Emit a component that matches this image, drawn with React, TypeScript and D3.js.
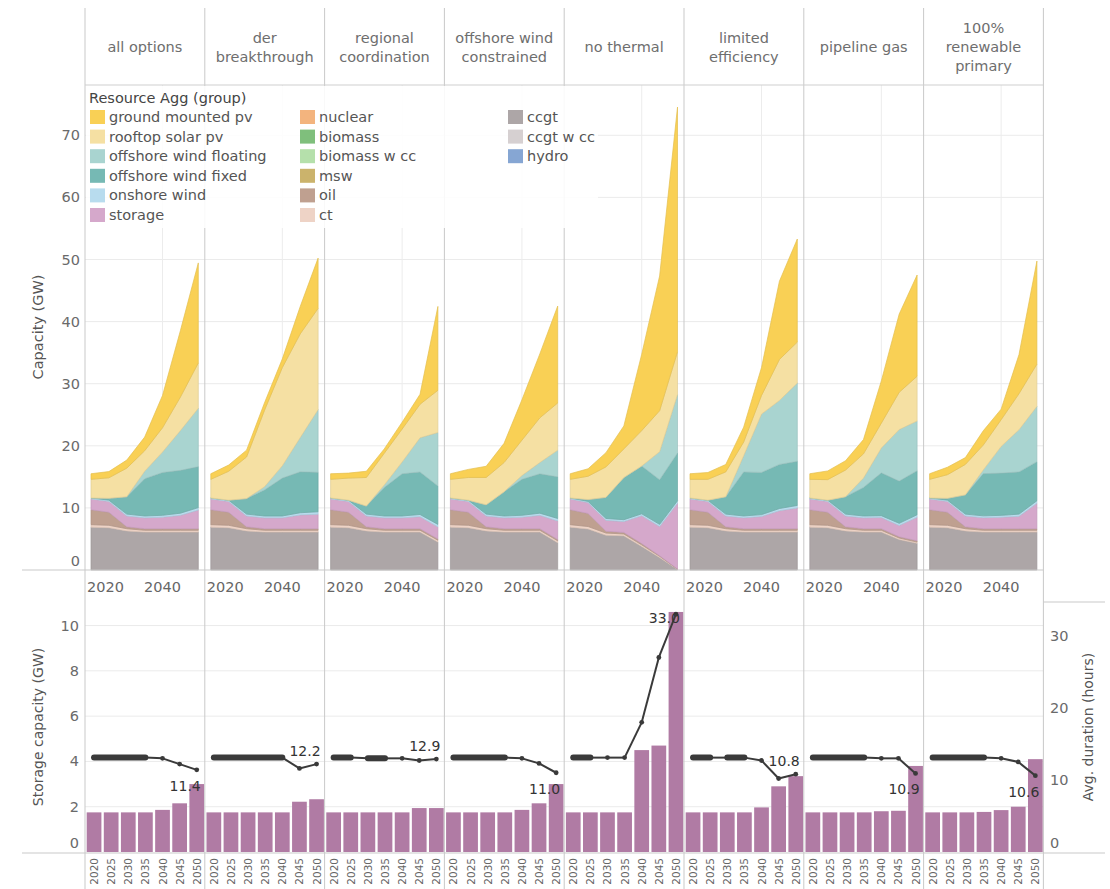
import React from "react";
import * as d3 from "d3";

// ---------------- DATA ----------------
const years = [2020, 2025, 2030, 2035, 2040, 2045, 2050];

const scenarioNames = [
  "all options",
  "der breakthrough",
  "regional coordination",
  "offshore wind constrained",
  "no thermal",
  "limited efficiency",
  "pipeline gas",
  "100% renewable primary",
];

const headerLines = [
  ["all options"],
  ["der", "breakthrough"],
  ["regional", "coordination"],
  ["offshore wind", "constrained"],
  ["no thermal"],
  ["limited", "efficiency"],
  ["pipeline gas"],
  ["100%", "renewable", "primary"],
];

// Capacity (GW) per scenario (rows) per year (columns)
const ccgt = [
  [6.9, 6.8, 6.3, 6.1, 6.1, 6.1, 6.1],
  [6.9, 6.8, 6.3, 6.1, 6.1, 6.1, 6.1],
  [6.9, 6.8, 6.3, 6.1, 6.1, 6.1, 4.5],
  [6.9, 6.8, 6.3, 6.1, 6.1, 6.1, 4.4],
  [6.9, 6.6, 5.6, 5.5, 3.8, 2.0, 0.1],
  [6.9, 6.8, 6.3, 6.1, 6.1, 6.1, 6.1],
  [6.9, 6.8, 6.3, 6.1, 6.1, 4.9, 4.3],
  [6.9, 6.8, 6.3, 6.1, 6.1, 6.1, 6.1],
];
const ct = [
  [0.4, 0.4, 0.35, 0.3, 0.3, 0.3, 0.3],
  [0.4, 0.4, 0.35, 0.3, 0.3, 0.3, 0.3],
  [0.4, 0.4, 0.35, 0.3, 0.3, 0.3, 0.3],
  [0.4, 0.4, 0.35, 0.3, 0.3, 0.3, 0.3],
  [0.4, 0.4, 0.35, 0.3, 0.25, 0.2, 0.05],
  [0.4, 0.4, 0.35, 0.3, 0.3, 0.3, 0.3],
  [0.4, 0.4, 0.35, 0.3, 0.3, 0.25, 0.2],
  [0.4, 0.4, 0.35, 0.3, 0.3, 0.3, 0.3],
];
const oil = [
  [2.4, 2.1, 0.3, 0.25, 0.25, 0.25, 0.25],
  [2.4, 2.1, 0.3, 0.25, 0.25, 0.25, 0.25],
  [2.4, 2.1, 0.3, 0.25, 0.25, 0.25, 0.2],
  [2.4, 2.1, 0.3, 0.25, 0.25, 0.25, 0.2],
  [2.4, 2.1, 0.3, 0.25, 0.2, 0.1, 0.0],
  [2.4, 2.1, 0.3, 0.25, 0.25, 0.25, 0.25],
  [2.4, 2.1, 0.3, 0.25, 0.25, 0.2, 0.2],
  [2.4, 2.1, 0.3, 0.25, 0.25, 0.25, 0.25],
];
const storage = [
  [1.75, 1.75, 1.75, 1.75, 1.86, 2.15, 3.0],
  [1.75, 1.75, 1.75, 1.75, 1.75, 2.22, 2.33],
  [1.75, 1.75, 1.75, 1.75, 1.75, 1.94, 1.94],
  [1.75, 1.75, 1.75, 1.75, 1.86, 2.15, 3.0],
  [1.75, 1.75, 1.75, 1.75, 4.5, 4.7, 10.6],
  [1.75, 1.75, 1.75, 1.75, 1.97, 2.9, 3.35],
  [1.75, 1.75, 1.75, 1.75, 1.8, 1.82, 3.8],
  [1.75, 1.75, 1.75, 1.77, 1.85, 2.0, 4.1],
];
const onshoreWind = [
  [0.15, 0.2, 0.3, 0.3, 0.3, 0.35, 0.4],
  [0.15, 0.2, 0.3, 0.3, 0.3, 0.35, 0.4],
  [0.15, 0.2, 0.3, 0.3, 0.3, 0.35, 0.4],
  [0.15, 0.2, 0.3, 0.3, 0.3, 0.35, 0.4],
  [0.15, 0.2, 0.3, 0.3, 0.3, 0.35, 0.4],
  [0.15, 0.2, 0.3, 0.3, 0.3, 0.35, 0.4],
  [0.15, 0.2, 0.3, 0.3, 0.3, 0.35, 0.4],
  [0.15, 0.2, 0.3, 0.3, 0.3, 0.35, 0.4],
];
const offshoreFixed = [
  [0, 0.3, 2.8, 6.0, 6.9, 6.9, 6.6],
  [0, 0, 2.5, 4.2, 6.1, 6.6, 6.35],
  [0, 0, 1.3, 4.6, 6.8, 6.85, 6.2],
  [0, 0, 1.5, 3.9, 5.8, 6.35, 6.7],
  [0, 0.3, 3.4, 6.8, 7.7, 7.2, 7.7],
  [0, 0, 2.8, 7.1, 6.8, 7.1, 7.1],
  [0, 0, 2.8, 4.6, 6.9, 6.8, 7.1],
  [0, 0.3, 3.1, 6.8, 6.8, 6.8, 6.3],
];
const offshoreFloating = [
  [0, 0, 0, 1.2, 3.3, 6.4, 9.4],
  [0, 0, 0, 0.5, 2.0, 5.5, 10.1],
  [0, 0, 0, 0.4, 1.9, 5.5, 8.6],
  [0, 0, 0, 0, 0.6, 1.8, 4.3],
  [0, 0, 0, 0, 0, 4.5, 9.4],
  [0, 0, 0, 2.6, 9.4, 10.3, 12.6],
  [0, 0, 0, 1.5, 4.0, 8.3, 8.0],
  [0, 0, 0, 0.6, 4.3, 6.8, 8.9],
];
const rooftopPv = [
  [3.0, 3.3, 4.6, 3.3, 3.9, 5.4, 7.3],
  [3.0, 4.65, 6.7, 12.3, 15.8, 16.7, 16.3],
  [3.0, 3.55, 4.6, 5.1, 5.3, 5.4, 6.8],
  [3.0, 3.65, 4.4, 4.7, 5.7, 7.2, 7.6],
  [3.0, 3.75, 4.9, 4.6, 5.7, 6.6, 6.9],
  [3.0, 3.35, 4.0, 2.2, 3.0, 6.6, 6.6],
  [3.0, 3.3, 4.3, 3.9, 4.0, 6.0, 7.2],
  [3.0, 3.8, 4.9, 4.0, 4.3, 5.8, 6.8],
];
const groundPv = [
  [0.9, 1.0, 1.3, 2.2, 5.2, 10.7, 16.1],
  [0.9, 1.0, 1.1, 1.2, 1.4, 4.4, 8.1],
  [0.9, 0.8, 1.0, 0.7, 1.1, 1.6, 13.5],
  [0.9, 1.3, 1.8, 3.1, 6.5, 10.3, 15.6],
  [0.9, 1.2, 2.3, 3.7, 12.3, 21.7, 39.4],
  [0.9, 1.1, 1.2, 2.4, 4.5, 12.6, 16.6],
  [0.9, 1.4, 1.5, 2.3, 6.8, 12.6, 16.3],
  [0.9, 1.2, 1.1, 2.3, 1.7, 6.3, 16.6],
];

// Average storage duration (hours)
const durationHours = [
  [13.1, 13.1, 13.1, 13.1, 13.0, 12.2, 11.4],
  [13.1, 13.1, 13.1, 13.1, 13.1, 11.6, 12.2],
  [13.1, 13.1, 13.0, 13.0, 13.0, 12.7, 12.9],
  [13.1, 13.1, 13.1, 13.1, 13.0, 12.3, 11.0],
  [13.1, 13.1, 13.1, 13.1, 18.0, 27.0, 33.0],
  [13.1, 13.1, 13.1, 13.1, 12.7, 10.2, 10.8],
  [13.1, 13.1, 13.1, 13.1, 13.0, 13.0, 10.9],
  [13.1, 13.1, 13.1, 13.1, 13.0, 12.5, 10.6],
];
// size encoding of the duration line (1 = wide segment)
const wideSegment = [
  [1, 1, 1, 0, 0, 0],
  [1, 1, 1, 1, 0, 0],
  [1, 0, 1, 0, 0, 0],
  [1, 1, 1, 0, 0, 0],
  [1, 0, 0, 0, 0, 0],
  [1, 0, 1, 0, 0, 0],
  [1, 1, 1, 0, 0, 0],
  [1, 1, 1, 0, 0, 0],
];

const capTicks = [0, 10, 20, 30, 40, 50, 60, 70];
const storTicks = [0, 2, 4, 6, 8, 10];
const durTicks = [0, 10, 20, 30];
const topYearTicks = [2020, 2040];

const stackKeys = [
  "ccgt",
  "ct",
  "oil",
  "storage",
  "onshore wind",
  "offshore wind fixed",
  "offshore wind floating",
  "rooftop solar pv",
  "ground mounted pv",
];
const stackData: Record<string, number[][]> = {
  ccgt: ccgt,
  ct: ct,
  oil: oil,
  storage: storage,
  "onshore wind": onshoreWind,
  "offshore wind fixed": offshoreFixed,
  "offshore wind floating": offshoreFloating,
  "rooftop solar pv": rooftopPv,
  "ground mounted pv": groundPv,
};

const colors: Record<string, string> = {
  "ground mounted pv": "#F9D055",
  "rooftop solar pv": "#F5E0A3",
  "offshore wind floating": "#A9D4D0",
  "offshore wind fixed": "#76B9B4",
  "onshore wind": "#B8DCEE",
  storage: "#D5A8CB",
  nuclear: "#F3B47E",
  biomass: "#7FBF7C",
  "biomass w cc": "#B5E0AB",
  msw: "#CBB36C",
  oil: "#BFA090",
  ct: "#EED3C6",
  ccgt: "#ADA6A7",
  "ccgt w cc": "#D6D0D1",
  hydro: "#86A6D3",
};

const legendColumns = [
  ["ground mounted pv", "rooftop solar pv", "offshore wind floating", "offshore wind fixed", "onshore wind", "storage"],
  ["nuclear", "biomass", "biomass w cc", "msw", "oil", "ct"],
  ["ccgt", "ccgt w cc", "hydro"],
];

// ---------------- LAYOUT ----------------
const W = 1110;
const H = 889;
const panelX0 = 85;
const panelW = 119.8;
const headerTop = 8;
const headerBottom = 85;
const topBase = 570;
const botTop = 602;
const botBase = 852;
const FONT = "DejaVu Sans, Verdana, sans-serif";

const yCap = d3.scaleLinear().domain([0, 78.1]).range([topBase, headerBottom]);
const yStor = d3.scaleLinear().domain([0, 11.04]).range([botBase, botTop]);
const yDur = d3.scaleLinear().domain([0, 34.7]).range([botBase, botTop]);

export default function App() {
  const panels = scenarioNames.map((name, i) => {
    const x0 = panelX0 + i * panelW;
    const x1 = x0 + panelW;
    const xT = d3.scaleLinear().domain([2020, 2050]).range([x0 + 6, x1 - 6.5]);
    const xB = d3
      .scaleBand<number>()
      .domain(years)
      .range([x0 + 1, x1])
      .paddingInner(0.14)
      .paddingOuter(0.04);

    const rows = years.map((yr, j) => {
      const o: any = { year: yr };
      stackKeys.forEach((k) => (o[k] = stackData[k][i][j]));
      return o;
    });
    const stacked = d3.stack<any>().keys(stackKeys)(rows);
    const area = d3
      .area<any>()
      .x((d) => xT(d.data.year))
      .y0((d) => yCap(d[0]))
      .y1((d) => yCap(d[1]));

    const pts: [number, number][] = years.map((yr, j) => [
      (xB(yr) as number) + xB.bandwidth() / 2,
      yDur(durationHours[i][j]),
    ]);
    const line = d3.line();
    // group consecutive wide segments into runs
    const runs: { from: number; to: number; wide: boolean }[] = [];
    wideSegment[i].forEach((w, j) => {
      const wide = w === 1;
      const lastRun = runs[runs.length - 1];
      if (lastRun && lastRun.wide === wide && wide) lastRun.to = j + 1;
      else runs.push({ from: j, to: j + 1, wide });
    });
    const last = durationHours[i][6];
    const prev = durationHours[i][5];
    const [lx, ly] = pts[6];
    const labelY = last < prev ? ly + 21 : Math.max(ly - 8, botTop + 21);

    return (
      <g key={name}>
        {/* header */}
        {headerLines[i].map((t, k) => (
          <text
            key={k}
            x={(x0 + x1) / 2}
            y={47 + (k - (headerLines[i].length - 1) / 2) * 19}
            textAnchor="middle"
            dominantBaseline="central"
            fontSize={14.5}
            fill="#6e6e6e"
          >
            {t}
          </text>
        ))}
        {/* top gridline at 2040 */}
        <line x1={xT(2040)} x2={xT(2040)} y1={headerBottom} y2={topBase} stroke="#ececec" />
        {/* stacked areas */}
        {stacked.map((s) => (
          <path
            key={s.key}
            d={area(s) || ""}
            fill={colors[s.key]}
            stroke={d3.color(colors[s.key])!.darker(0.25).toString()}
            strokeWidth={0.7}
          />
        ))}
        {/* top x labels */}
        {topYearTicks.map((yr, k) => (
          <text
            key={yr}
            x={k === 0 ? xT(yr) - 4 : xT(yr)}
            y={587}
            textAnchor={k === 0 ? "start" : "middle"}
            dominantBaseline="central"
            fontSize={14.5}
            fill="#666"
          >
            {yr}
          </text>
        ))}
        {/* bars */}
        {years.map((yr, j) => (
          <rect
            key={yr}
            x={xB(yr)}
            y={yStor(storage[i][j])}
            width={xB.bandwidth()}
            height={botBase - yStor(storage[i][j])}
            fill="#B07BA4"
          />
        ))}
        {/* duration line */}
        {pts.map((p, j) => (
          <circle key={j} cx={p[0]} cy={p[1]} r={2.4} fill="#3a3a3a" />
        ))}
        {runs.map((r, j) => (
          <path
            key={j}
            d={line(pts.slice(r.from, r.to + 1)) || ""}
            stroke="#3a3a3a"
            strokeWidth={r.wide ? 6 : 2}
            strokeLinecap={r.wide ? "round" : "butt"}
            strokeLinejoin="round"
            fill="none"
          />
        ))}
        <text x={lx + 4} y={labelY} textAnchor="end" fontSize={14} fill="#333">
          {last.toFixed(1)}
        </text>
        {/* rotated year labels */}
        {years.map((yr) => {
          const cx = (xB(yr) as number) + xB.bandwidth() / 2;
          return (
            <text
              key={yr}
              transform={`translate(${cx},858) rotate(-90)`}
              textAnchor="end"
              dominantBaseline="central"
              fontSize={10.5}
              fill="#666"
            >
              {yr}
            </text>
          );
        })}
      </g>
    );
  });

  const panelLines = d3.range(scenarioNames.length + 1).map((k) => panelX0 + k * panelW);
  const rightEdge = panelX0 + scenarioNames.length * panelW;

  return (
    <svg
      width={W}
      height={H}
      style={{ position: "absolute", left: 0, top: 0, background: "#fff" }}
      fontFamily={FONT}
    >
      <rect x={0} y={0} width={W} height={H} fill="#fff" />
      {/* horizontal gridlines top */}
      {capTicks.slice(1).map((t) => (
        <line key={t} x1={panelX0} x2={rightEdge} y1={yCap(t)} y2={yCap(t)} stroke="#ebebeb" />
      ))}
      {/* horizontal gridlines bottom */}
      {storTicks.slice(1).map((t) => (
        <line key={t} x1={panelX0} x2={rightEdge} y1={yStor(t)} y2={yStor(t)} stroke="#ebebeb" />
      ))}
      {panels}
      {/* panel divider lines */}
      {panelLines.map((x, k) => (
        <line key={k} x1={x} x2={x} y1={headerTop} y2={H} stroke="#c9c9c9" />
      ))}
      <line x1={panelX0} x2={rightEdge} y1={headerBottom} y2={headerBottom} stroke="#cfcfcf" />
      <line x1={22} x2={rightEdge} y1={topBase} y2={topBase} stroke="#c9c9c9" />
      <line x1={22} x2={1105} y1={botBase + 1} y2={botBase + 1} stroke="#c9c9c9" />
      <line x1={rightEdge} x2={1105} y1={botTop} y2={botTop} stroke="#c9c9c9" />

      {/* legend */}
      <rect x={86} y={86} width={512} height={142} fill="#fff" fillOpacity={0.88} />
      <text x={89} y={98} dominantBaseline="central" fontSize={14.5} fill="#444">
        Resource Agg (group)
      </text>
      {legendColumns.map((col, c) =>
        col.map((item, r) => {
          const sx = [90, 300, 508][c];
          const cy = 117 + r * 19.6;
          return (
            <g key={item}>
              <rect x={sx} y={cy - 7} width={15} height={14} fill={colors[item]} />
              <text x={sx + 19} y={cy} dominantBaseline="central" fontSize={14.5} fill="#555">
                {item}
              </text>
            </g>
          );
        })
      )}

      {/* left axis top */}
      {capTicks.map((t) => (
        <text
          key={t}
          x={80}
          y={yCap(t) + (t === 0 ? -9 : 0)}
          textAnchor="end"
          dominantBaseline="central"
          fontSize={14.5}
          fill="#6a6a6a"
        >
          {t}
        </text>
      ))}
      <text
        transform={`translate(38,327) rotate(-90)`}
        textAnchor="middle"
        dominantBaseline="central"
        fontSize={14.5}
        fill="#555"
      >
        Capacity (GW)
      </text>

      {/* left axis bottom */}
      {storTicks.map((t) => (
        <text
          key={t}
          x={79}
          y={yStor(t) + (t === 0 ? -9 : 0)}
          textAnchor="end"
          dominantBaseline="central"
          fontSize={14.5}
          fill="#6a6a6a"
        >
          {t}
        </text>
      ))}
      <text
        transform={`translate(38,727) rotate(-90)`}
        textAnchor="middle"
        dominantBaseline="central"
        fontSize={14}
        fill="#555"
      >
        Storage capacity (GW)
      </text>

      {/* right axis */}
      {durTicks.map((t) => (
        <text
          key={t}
          x={1050}
          y={yDur(t) + (t === 0 ? -9 : 0)}
          textAnchor="start"
          dominantBaseline="central"
          fontSize={14.5}
          fill="#6a6a6a"
        >
          {t}
        </text>
      ))}
      <text
        transform={`translate(1088,727) rotate(-90)`}
        textAnchor="middle"
        dominantBaseline="central"
        fontSize={14}
        fill="#555"
      >
        Avg. duration (hours)
      </text>
    </svg>
  );
}
